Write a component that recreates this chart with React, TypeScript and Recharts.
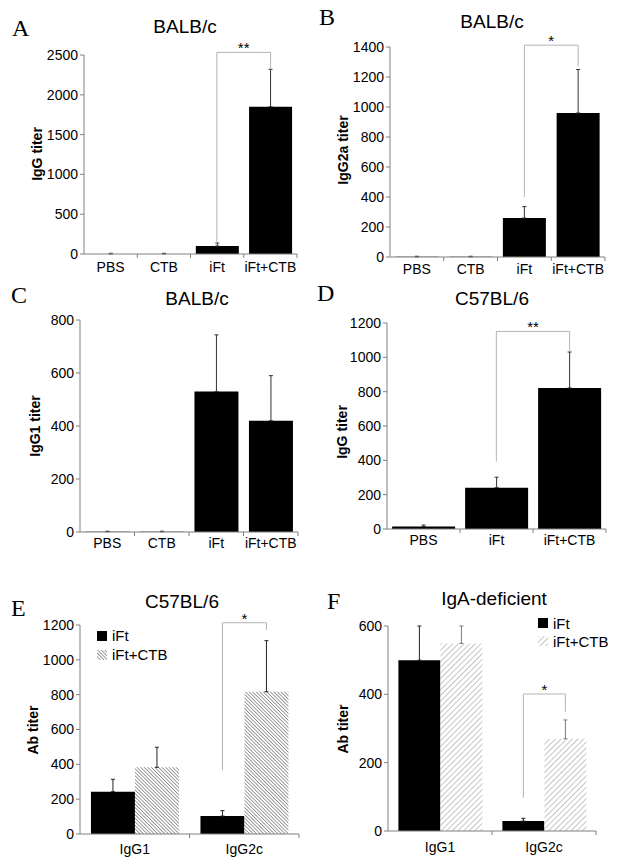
import { Bar, BarChart, ErrorBar, LabelList, Legend, XAxis, YAxis } from 'recharts'

const FONT = '"Liberation Sans", Arial, Helvetica, sans-serif'
const SERIF = '"Liberation Serif", "Times New Roman", serif'
const AXIS_GREY = '#808080'
const BRACKET_GREY = '#b4b4b4'

// A-C: BALB/c, four immunisation groups
const balbGroups = ['PBS', 'CTB', 'iFt', 'iFt+CTB']
const balbIgG = [1, 1, 100, 1850]
const balbIgGErr = [8, 8, 38, 470]
const balbIgGTicks = [0, 500, 1000, 1500, 2000, 2500]

const balbIgG2a = [1, 1, 260, 960]
const balbIgG2aErr = [4, 4, 76, 290]
const balbIgG2aTicks = [0, 200, 400, 600, 800, 1000, 1200, 1400]

const balbIgG1 = [1, 1, 530, 420]
const balbIgG1Err = [2, 2, 214, 170]
const balbIgG1Ticks = [0, 200, 400, 600, 800]

// D: C57BL/6 total IgG
const b6Groups = ['PBS', 'iFt', 'iFt+CTB']
const b6IgG = [15, 241, 822]
const b6IgGErr = [8, 61, 209]
const b6IgGTicks = [0, 200, 400, 600, 800, 1000, 1200]

// E/F: subclasses
const subclasses = ['IgG1', 'IgG2c']
const b6Ift = [243, 103]
const b6IftErr = [71, 31]
const b6IftCtb = [383, 817]
const b6IftCtbErr = [115, 293]
const b6SubTicks = [0, 200, 400, 600, 800, 1000, 1200]

const igaIft = [500, 29]
const igaIftErr = [100, 8]
const igaIftCtb = [549, 270]
const igaIftCtbErr = [51, 55]
const igaTicks = [0, 200, 400, 600]

const PAD_L = 60
const PAD_R = 12
const PAD_T = 45
const PAD_B = 30

type Series = { name: string; values: number[]; errors: number[]; fill: string; errStroke: string }
type Bracket = { from: number; to: number; level: number; leftEnd: number; rightEnd: number; mark: string }
type PanelSpec = {
  letter: string
  letterAt: [number, number]
  title: string
  titleAt: [number, number]
  yLabel: string
  yLabelAt: [number, number]
  frame: { x0: number; x1: number; yT: number; y0: number }
  labelDy: number
  gap: number
  categories: string[]
  ticks: number[]
  series: Series[]
  bracket?: Bracket
  legendAt?: [number, number, number]
}

const panels: PanelSpec[] = [
  {
    letter: 'A', letterAt: [12, 36], title: 'BALB/c', titleAt: [185, 33],
    yLabel: 'IgG titer', yLabelAt: [37, 154],
    frame: { x0: 84, x1: 297, yT: 55, y0: 254 }, labelDy: 18, gap: 10,
    categories: balbGroups, ticks: balbIgGTicks,
    series: [{ name: 'IgG', values: balbIgG, errors: balbIgGErr, fill: '#000', errStroke: '#333' }],
    bracket: { from: 2, to: 3, level: 2533, leftEnd: 138, rightEnd: 2320, mark: '**' },
  },
  {
    letter: 'B', letterAt: [319, 25], title: 'BALB/c', titleAt: [492, 28],
    yLabel: 'IgG2a titer', yLabelAt: [343, 150],
    frame: { x0: 390, x1: 605, yT: 47, y0: 257 }, labelDy: 17, gap: 10,
    categories: balbGroups, ticks: balbIgG2aTicks,
    series: [{ name: 'IgG2a', values: balbIgG2a, errors: balbIgG2aErr, fill: '#000', errStroke: '#333' }],
    bracket: { from: 2, to: 3, level: 1412, leftEnd: 400, rightEnd: 1270, mark: '*' },
  },
  {
    letter: 'C', letterAt: [11, 303], title: 'BALB/c', titleAt: [197, 305],
    yLabel: 'IgG1 titer', yLabelAt: [35, 426],
    frame: { x0: 80, x1: 298, yT: 320, y0: 532 }, labelDy: 16, gap: 10,
    categories: balbGroups, ticks: balbIgG1Ticks,
    series: [{ name: 'IgG1', values: balbIgG1, errors: balbIgG1Err, fill: '#000', errStroke: '#333' }],
  },
  {
    letter: 'D', letterAt: [317, 301], title: 'C57BL/6', titleAt: [492, 305],
    yLabel: 'IgG titer', yLabelAt: [342, 432],
    frame: { x0: 387, x1: 606, yT: 323, y0: 529 }, labelDy: 16, gap: 7,
    categories: b6Groups, ticks: b6IgGTicks,
    series: [{ name: 'IgG', values: b6IgG, errors: b6IgGErr, fill: '#000', errStroke: '#333' }],
    bracket: { from: 1, to: 2, level: 1151, leftEnd: 392, rightEnd: 1031, mark: '**' },
  },
  {
    letter: 'E', letterAt: [11, 616], title: 'C57BL/6', titleAt: [182, 608],
    yLabel: 'Ab titer', yLabelAt: [33, 730],
    frame: { x0: 80, x1: 299, yT: 625, y0: 834 }, labelDy: 20, gap: 10,
    categories: subclasses, ticks: b6SubTicks,
    series: [
      { name: 'iFt', values: b6Ift, errors: b6IftErr, fill: '#000', errStroke: '#222' },
      { name: 'iFt+CTB', values: b6IftCtb, errors: b6IftCtbErr, fill: 'url(#hatch-dense)', errStroke: '#222' },
    ],
    bracket: { from: 1, to: 1, level: 1213, leftEnd: 367, rightEnd: 1171, mark: '*' },
    legendAt: [97, 626, 19],
  },
  {
    letter: 'F', letterAt: [327, 609], title: 'IgA-deficient', titleAt: [494, 605],
    yLabel: 'Ab titer', yLabelAt: [343, 729],
    frame: { x0: 388, x1: 596, yT: 626, y0: 831 }, labelDy: 21, gap: 10,
    categories: subclasses, ticks: igaTicks,
    series: [
      { name: 'iFt', values: igaIft, errors: igaIftErr, fill: '#000', errStroke: '#222' },
      { name: 'iFt+CTB', values: igaIftCtb, errors: igaIftCtbErr, fill: 'url(#hatch-open)', errStroke: '#7a7a7a' },
    ],
    bracket: { from: 1, to: 1, level: 401, leftEnd: 97, rightEnd: 349, mark: '*' },
    legendAt: [538, 614, 18],
  },
]

function buildRows(p: PanelSpec) {
  return p.categories.map((group, i) => {
    const row: Record<string, any> = { group }
    p.series.forEach((s, k) => {
      row[`v${k}`] = s.values[i]
      row[`e${k}`] = [0, s.errors[i]]
    })
    return row
  })
}

function categoryTick(axisY: number, dy: number, band: number) {
  return (props: any) => {
    const { x, payload } = props
    return (
      <g>
        <line x1={x + band / 2} x2={x + band / 2} y1={axisY} y2={axisY + 4} stroke={AXIS_GREY} />
        <text x={x} y={axisY + dy} textAnchor="middle" fontSize={14} fontFamily={FONT} fill="#000">
          {payload.value}
        </text>
      </g>
    )
  }
}

// bracket drawn from the label of the right-hand bar, using its own pixel scale
function bracketLabel(b: Bracket, grouped: boolean, gap: number, target: number) {
  return (props: any) => {
    const vb = props.viewBox && props.viewBox.width !== undefined ? props.viewBox : props
    const { x, y, width, height } = vb
    const value = Number(props.value)
    if (props.index !== undefined ? props.index !== b.to : value !== target) return null
    if (!value || !height) return null
    const perUnit = height / value
    const base = y + height
    const yAt = (v: number) => base - v * perUnit
    const right = x + width / 2
    const left = grouped ? right - width : right - ((b.to - b.from) * width) / (1 - (2 * gap) / 100)
    const top = yAt(b.level)
    return (
      <g>
        <polyline
          points={`${left},${yAt(b.leftEnd)} ${left},${top} ${right},${top} ${right},${yAt(b.rightEnd)}`}
          fill="none"
          stroke={BRACKET_GREY}
          strokeWidth={1}
        />
        <text x={(left + right) / 2} y={top + 1} textAnchor="middle" fontSize={15} fontFamily={FONT} fill="#000">
          {b.mark}
        </text>
      </g>
    )
  }
}

function legendContent(props: any) {
  const items = props.payload ?? []
  return (
    <div style={{ fontFamily: FONT, fontSize: 15, color: '#000' }}>
      {items.map((item: any) => (
        <div key={item.value} style={{ display: 'flex', alignItems: 'center', height: 'var(--row)' }}>
          <svg width={10} height={10} style={{ marginRight: 5 }}>
            <rect width={10} height={10} fill={item.color ?? item.payload?.fill} />
          </svg>
          <span>{item.value}</span>
        </div>
      ))}
    </div>
  )
}

function Panel({ p }: { p: PanelSpec }) {
  const { x0, x1, yT, y0 } = p.frame
  const plotW = x1 - x0
  const plotH = y0 - yT
  const width = PAD_L + plotW + PAD_R
  const height = PAD_T + plotH + PAD_B
  const left = x0 - PAD_L
  const top = yT - PAD_T
  const band = plotW / p.categories.length
  const grouped = p.series.length > 1
  const data = buildRows(p)
  const last = p.series.length - 1

  return (
    <div style={{ position: 'absolute', left, top, width, height }}>
      <BarChart
        width={width}
        height={height}
        data={data}
        margin={{ top: PAD_T, right: PAD_R, bottom: 0, left: 0 }}
        barCategoryGap={`${p.gap}%`}
        barGap={0}
      >
        <XAxis
          dataKey="group"
          height={PAD_B}
          interval={0}
          axisLine={{ stroke: AXIS_GREY }}
          tickLine={false}
          tick={categoryTick(PAD_T + plotH, p.labelDy, band)}
        />
        <YAxis
          width={PAD_L}
          domain={[0, p.ticks[p.ticks.length - 1]]}
          ticks={p.ticks}
          interval={0}
          allowDataOverflow
          tickSize={4}
          tickMargin={2}
          axisLine={{ stroke: AXIS_GREY }}
          tickLine={{ stroke: AXIS_GREY }}
          tick={{ fill: '#000', fontSize: 14, fontFamily: FONT }}
        />
        {p.legendAt && (
          <Legend
            layout="vertical"
            align="center"
            verticalAlign="middle"
            content={legendContent}
            wrapperStyle={{
              top: p.legendAt[1] - top,
              left: p.legendAt[0] - left,
              width: 'auto',
              ['--row' as any]: `${p.legendAt[2]}px`,
            }}
          />
        )}
        {p.series.map((s, k) => (
          <Bar key={s.name} dataKey={`v${k}`} name={s.name} fill={s.fill} isAnimationActive={false}>
            <ErrorBar dataKey={`e${k}`} width={2} stroke={s.errStroke} strokeWidth={1} direction="y" isAnimationActive={false} />
            {p.bracket && k === last && (
              <LabelList
                dataKey={`v${k}`}
                content={bracketLabel(p.bracket, grouped, p.gap, s.values[p.bracket.to])}
              />
            )}
          </Bar>
        ))}
      </BarChart>
    </div>
  )
}

export default function App() {
  return (
    <div style={{ position: 'absolute', left: 0, top: 0, width: 621, height: 862, background: '#fff', overflow: 'hidden' }}>
      <svg width={0} height={0} style={{ position: 'absolute' }}>
        <defs>
          <pattern id="hatch-dense" width={2.5} height={2.5} patternUnits="userSpaceOnUse" patternTransform="rotate(-45)">
            <rect width={2.5} height={2.5} fill="#fff" />
            <line x1={0} y1={0} x2={0} y2={2.5} stroke="#5e5e5e" strokeWidth={1.2} />
          </pattern>
          <pattern id="hatch-open" width={4} height={4} patternUnits="userSpaceOnUse" patternTransform="rotate(45)">
            <rect width={4} height={4} fill="#fff" />
            <line x1={0} y1={0} x2={0} y2={4} stroke="#8c8c8c" strokeWidth={1} />
          </pattern>
        </defs>
      </svg>
      {panels.map((p) => (
        <Panel key={p.letter} p={p} />
      ))}
      <svg width={621} height={862} style={{ position: 'absolute', left: 0, top: 0, pointerEvents: 'none' }}>
        {panels.map((p) => (
          <g key={p.letter}>
            <text x={p.letterAt[0]} y={p.letterAt[1]} fontFamily={SERIF} fontSize={24} fill="#000">
              {p.letter}
            </text>
            <text x={p.titleAt[0]} y={p.titleAt[1]} textAnchor="middle" fontFamily={FONT} fontSize={19} fill="#000">
              {p.title}
            </text>
            <text
              x={p.yLabelAt[0]}
              y={p.yLabelAt[1]}
              transform={`rotate(-90 ${p.yLabelAt[0]} ${p.yLabelAt[1]})`}
              textAnchor="middle"
              dominantBaseline="central"
              fontFamily={FONT}
              fontWeight="bold"
              fontSize={14}
              fill="#000"
            >
              {p.yLabel}
            </text>
          </g>
        ))}
      </svg>
    </div>
  )
}
